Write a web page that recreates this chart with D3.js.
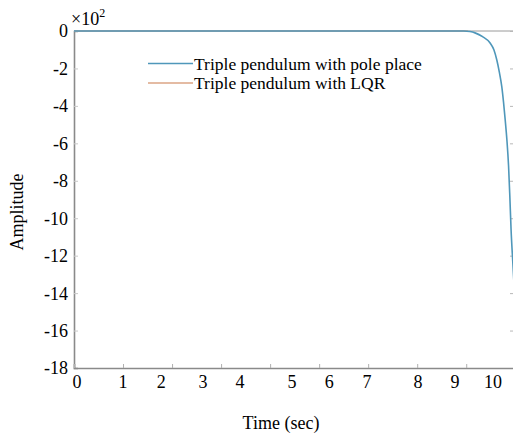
<!DOCTYPE html>
<html>
<head>
<meta charset="utf-8">
<script src="https://cdn.jsdelivr.net/npm/d3@7"></script>
<style>
  body { margin: 0; background: #fff; }
  svg text { font-family: "Liberation Serif", "Times New Roman", serif; fill: #000; }
</style>
</head>
<body>
<svg id="chart" width="513" height="437"></svg>
<script>
// values (amplitude in units of 10^2)
const seriesNames = ["Triple pendulum with pole place", "Triple pendulum with LQR"];
const poleTime = [0, 9.3, 9.45, 9.57, 9.75, 9.93, 10.02, 10.09, 10.15, 10.21, 10.25, 10.29, 10.33, 10.37, 10.40, 10.43, 10.47, 10.5];
const poleAmp  = [0, 0, -0.03, -0.1, -0.3, -0.64, -1.0, -1.55, -2.2, -3.0, -3.8, -4.75, -5.8, -7.2, -8.8, -10.6, -12.3, -13.5];
const lqrTime = [0, 9.4];
const lqrAmp  = [0, 0];
const yTicks = [0, -2, -4, -6, -8, -10, -12, -14, -16, -18];
const xTickMarks = [0, 1.17, 2.34, 3.51, 4.68, 5.85, 7.02, 8.19, 9.36];
const xLabels = ["0", "1", "2", "3", "4", "5", "6", "7", "8", "9", "10"];
const xLabelAt = [0.07, 1.17, 2.08, 3.08, 3.96, 5.2, 6.09, 6.99, 8.21, 9.09, 10.0];

const colors = ["#4f97ba", "#dba584"];
const serif = "'Liberation Serif', 'Times New Roman', serif";
const margin = {left: 74, top: 31, right: -1, bottom: 69};
const W = 513, H = 437;

const svg = d3.select("#chart").style("font-family", serif);

const x = d3.scaleLinear().domain([0, 10.5]).range([margin.left, W - margin.right]);
const y = d3.scaleLinear().domain([-18, 0]).range([H - margin.bottom, margin.top]);

// top border
const axisColor = "#8a8a8a";
svg.append("line")
    .attr("x1", x(0)).attr("x2", x(10.5))
    .attr("y1", y(0)).attr("y2", y(0))
    .attr("stroke", "#9a9a9a").attr("stroke-width", 1);

// left axis
const gy = svg.append("g")
    .attr("transform", "translate(" + x(0) + ",0)")
    .call(d3.axisLeft(y).tickValues(yTicks).tickSize(-4).tickPadding(6).tickFormat(d3.format("d")));
gy.attr("font-family", null).attr("font-size", null);
gy.select(".domain").attr("stroke", axisColor).attr("stroke-width", 1.6);
gy.selectAll(".tick line").attr("stroke", "#c8c8c8");
gy.selectAll(".tick text")
    .style("font-family", serif)
    .style("font-size", "18px")
    .attr("dy", "0.33em")
    .text(d => d === 0 ? "0" : String(d));

// right ticks
svg.append("g")
    .attr("transform", "translate(" + x(10.5) + ",0)")
    .call(d3.axisRight(y).tickValues(yTicks).tickSize(-4).tickFormat(""))
    .call(g => g.select(".domain").remove())
    .selectAll(".tick line").attr("stroke", "#b8b8b8");

// bottom axis: tick marks
const gx = svg.append("g")
    .attr("transform", "translate(0," + y(-18) + ")")
    .call(d3.axisBottom(x).tickValues(xTickMarks).tickSize(-4).tickFormat(""));
gx.select(".domain").attr("stroke", axisColor).attr("stroke-width", 1.6);
gx.selectAll(".tick line").attr("stroke", "#b0b0b0");

// bottom labels
svg.append("g").selectAll("text")
    .data(xLabels)
    .join("text")
    .attr("x", (d, i) => x(xLabelAt[i]))
    .attr("y", y(-18) + 20)
    .attr("text-anchor", "middle")
    .style("font-size", "18px")
    .text(d => d);

// multiplier
const mult = svg.append("text")
    .attr("x", x(0) - 3)
    .attr("y", 25)
    .style("font-size", "18px");
mult.append("tspan").text("\u00d710");
mult.append("tspan").attr("dy", -8).style("font-size", "12px").text("2");

// axis titles
svg.append("text")
    .attr("x", 281).attr("y", 429)
    .attr("text-anchor", "middle")
    .style("font-size", "18px")
    .text("Time (sec)");

svg.append("text")
    .attr("transform", "translate(23,212) rotate(-90)")
    .attr("text-anchor", "middle")
    .style("font-size", "18px")
    .text("Amplitude");

// lines
svg.append("clipPath").attr("id", "plotclip")
    .append("rect")
    .attr("x", x(0)).attr("y", y(0) - 2)
    .attr("width", x(10.5) - x(0)).attr("height", y(-18) - y(0) + 2);

const line = d3.line()
    .x(d => x(d[0]))
    .y(d => y(d[1]))
    .curve(d3.curveMonotoneX);

const series = [
    d3.zip(lqrTime, lqrAmp),
    d3.zip(poleTime, poleAmp)
];
const seriesColor = [colors[1], colors[0]];

svg.append("g").attr("clip-path", "url(#plotclip)")
    .selectAll("path")
    .data(series)
    .join("path")
    .attr("fill", "none")
    .attr("stroke", (d, i) => seriesColor[i])
    .attr("stroke-width", 1.6)
    .attr("stroke-linejoin", "round")
    .attr("d", line);

// legend
const legend = svg.append("g").attr("transform", "translate(148,63.5)");
seriesNames.forEach((name, i) => {
    const row = legend.append("g").attr("transform", "translate(0," + (i * 19.5) + ")");
    row.append("line")
        .attr("x1", 0).attr("x2", 45)
        .attr("stroke", colors[i]).attr("stroke-width", 1.6);
    row.append("text")
        .attr("x", 46).attr("y", 6)
        .style("font-size", "17.5px")
        .text(name);
});
</script>
</body>
</html>
